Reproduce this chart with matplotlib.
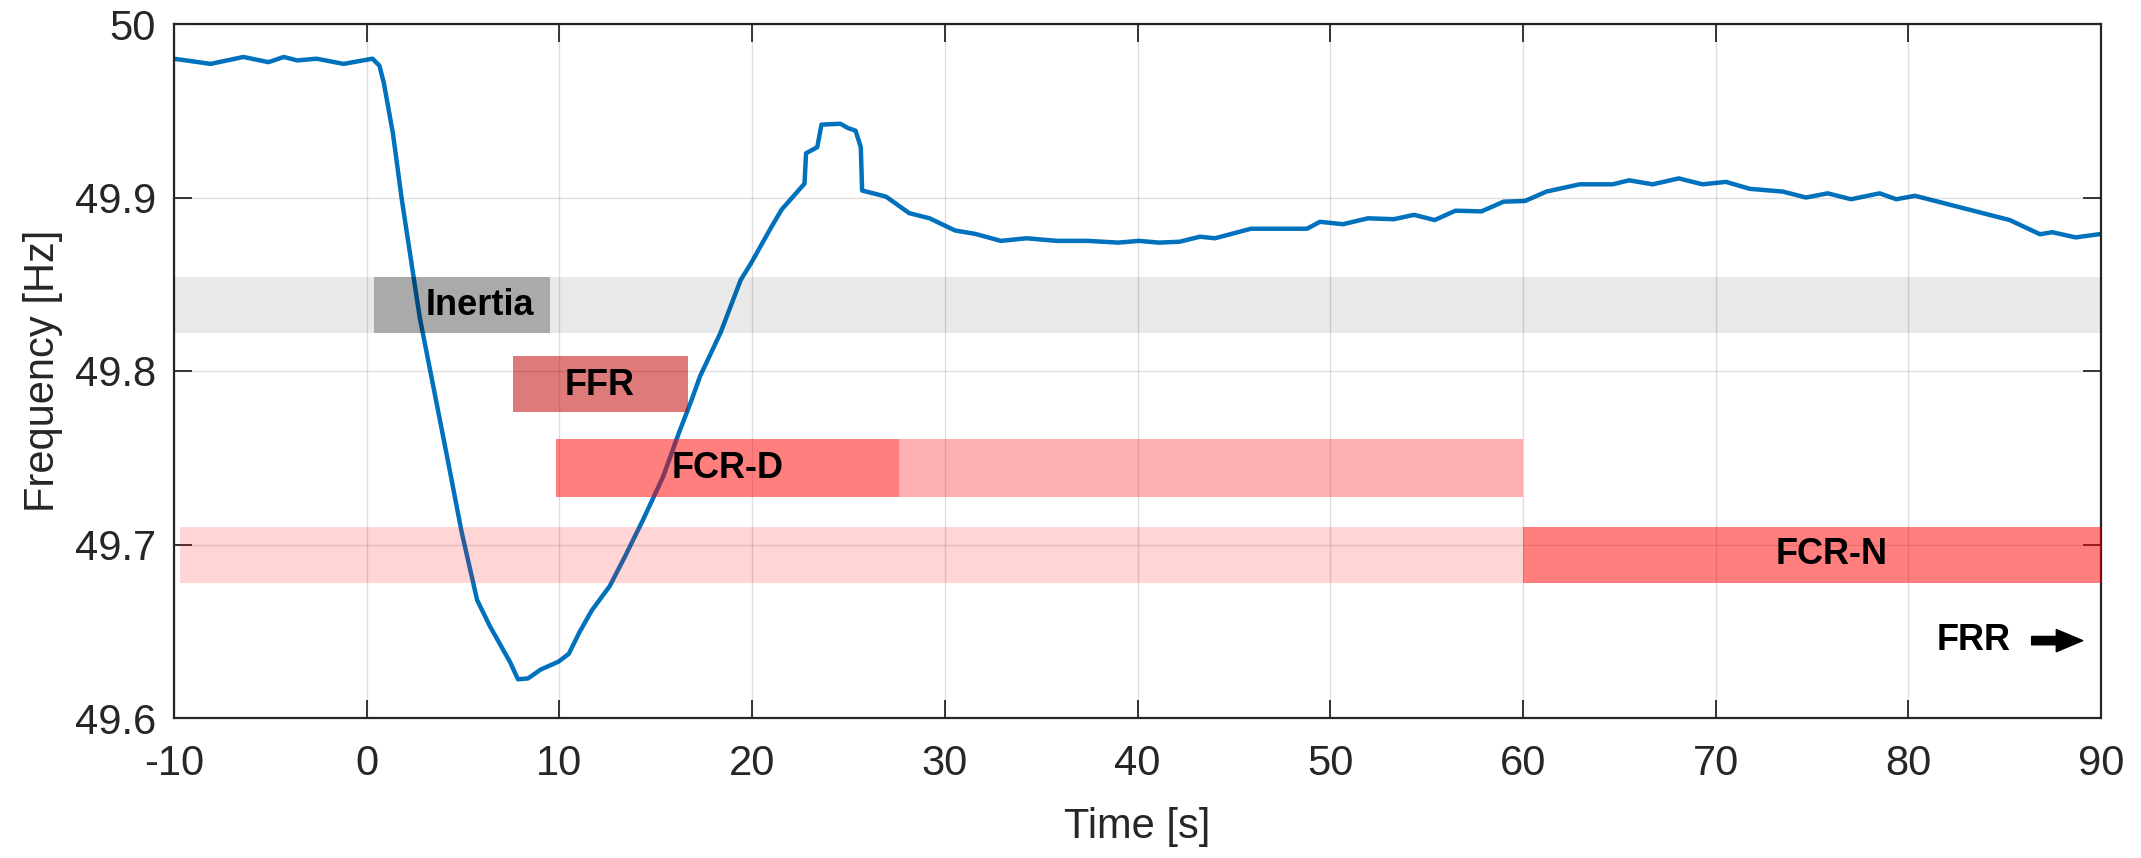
import matplotlib
matplotlib.use("Agg")
import matplotlib.pyplot as plt

# ---------------- data ----------------
time_s = [-10, -8.1, -6.4, -5.1, -4.3, -3.6, -2.6, -1.2, 0.3, 0.66,
          0.89, 1.36, 1.82, 2.75, 3.6, 4.27, 4.93, 5.73, 6.39, 7.45,
          7.85, 8.37, 9.04, 9.96, 10.49, 11.02, 11.68, 12.61, 13.40, 14.33,
          15.38, 16.19, 16.85, 17.30, 18.36, 19.41, 19.94, 21.0, 21.53, 22.72,
          22.80, 23.38, 23.6, 24.58, 24.98, 25.37, 25.64, 25.71, 26.43, 26.95,
          28.15, 29.21, 30.53, 31.59, 32.91, 34.24, 35.82, 37.42, 39.0, 40.07,
          41.12, 42.18, 43.24, 44.02, 45.89, 47.48, 48.80, 49.47, 50.66, 51.96,
          53.30, 54.35, 55.42, 56.5, 57.85, 59.0, 60.11, 61.22, 62.94, 64.66,
          65.51, 66.74, 68.09, 69.32, 70.54, 71.77, 73.49, 74.69, 75.82, 77.03,
          78.51, 79.38, 80.35, 82.56, 85.26, 86.84, 87.46, 88.69, 90.0]
freq_hz = [49.980, 49.977, 49.981, 49.978, 49.981, 49.979, 49.980, 49.977, 49.980, 49.976,
           49.966, 49.937, 49.899, 49.831, 49.783, 49.745, 49.707, 49.668, 49.653, 49.632,
           49.6223, 49.6228, 49.628, 49.6325, 49.637, 49.649, 49.662, 49.676, 49.693, 49.714,
           49.739, 49.764, 49.783, 49.797, 49.822, 49.8525, 49.862, 49.883, 49.893, 49.908,
           49.9255, 49.929, 49.942, 49.9425, 49.940, 49.9385, 49.929, 49.904, 49.902, 49.9005,
           49.891, 49.888, 49.881, 49.879, 49.875, 49.8765, 49.875, 49.875, 49.874, 49.875,
           49.874, 49.8745, 49.8774, 49.8765, 49.882, 49.882, 49.882, 49.886, 49.8846, 49.888,
           49.8875, 49.890, 49.887, 49.8924, 49.892, 49.8976, 49.898, 49.9034, 49.9076, 49.9076,
           49.9099, 49.9076, 49.911, 49.9076, 49.909, 49.905, 49.9034, 49.900, 49.9024, 49.899,
           49.9024, 49.899, 49.901, 49.8947, 49.887, 49.8788, 49.880, 49.877, 49.879]

# reserve bands: start time, end time, lower freq, upper freq
band_start = [-10, 0.4, 7.6, 9.8, 27.6, -9.7, 60]
band_end = [90, 9.5, 16.65, 27.6, 60, 60, 90]
band_low = [49.822, 49.822, 49.7766, 49.7276, 49.7276, 49.678, 49.678]
band_high = [49.854, 49.854, 49.8086, 49.761, 49.761, 49.710, 49.710]
band_color = ["#000000", "#000000", "#c30000", "#ff0000", "#ff0000", "#ff0000", "#ff0000"]
band_alpha = [0.086, 0.27, 0.52, 0.5, 0.31, 0.165, 0.5]

label_text = ["Inertia", "FFR", "FCR-D", "FCR-N", "FRR"]
label_x = [5.85, 12.1, 18.74, 76.0, 83.4]
label_y = [49.838, 49.7915, 49.744, 49.694, 49.6446]

arrow_from = (86.4, 49.6446)
arrow_to = (89.05, 49.6446)

x_ticks = [-10, 0, 10, 20, 30, 40, 50, 60, 70, 80, 90]
y_ticks = [49.6, 49.7, 49.8, 49.9, 50.0]
y_ticklabels = ["49.6", "49.7", "49.8", "49.9", "50"]

# ---------------- plot ----------------
plt.rcParams["font.family"] = ["Liberation Sans", "DejaVu Sans"]
txt_col = "#262626"

fig = plt.figure(figsize=(21.41, 8.58), dpi=100)
ax = fig.add_axes([174 / 2141, 140 / 858, 1927 / 2141, 694 / 858])

ax.plot(time_s, freq_hz, color="#0072BD", lw=3.2, zorder=2,
        solid_joinstyle="round", solid_capstyle="round")

for s, e, lo, hi, c, a in zip(band_start, band_end, band_low, band_high, band_color, band_alpha):
    ax.barh((lo + hi) / 2, e - s, left=s, height=hi - lo, color=c, alpha=a,
            linewidth=0, zorder=3)

for t, x, y in zip(label_text, label_x, label_y):
    ax.text(x, y, t, ha="center", va="center", fontsize=26, fontweight="bold",
            color="black", zorder=5)

ax.annotate("", xy=arrow_to, xytext=arrow_from,
            arrowprops=dict(arrowstyle="simple,head_length=0.95,head_width=0.8,tail_width=0.3",
                            mutation_scale=20, color="black", shrinkA=0, shrinkB=0),
            zorder=5)

ax.set_xlim(-10, 90)
ax.set_ylim(49.6, 50.0)
ax.set_xticks(x_ticks)
ax.set_xticklabels([str(v) for v in x_ticks])
ax.set_yticks(y_ticks)
ax.set_yticklabels(y_ticklabels)

ax.grid(True, color="black", alpha=0.13, lw=1.0, zorder=4)
ax.set_axisbelow(False)

ax.tick_params(axis="both", direction="in", length=13, width=1.3, colors=txt_col,
               labelsize=30, top=True, right=True)
ax.tick_params(axis="x", pad=19)
ax.tick_params(axis="y", pad=13)
for sp in ax.spines.values():
    sp.set_color(txt_col)
    sp.set_linewidth(1.6)

ax.set_xlabel("Time [s]", fontsize=30, color=txt_col)
ax.set_ylabel("Frequency [Hz]", fontsize=30, color=txt_col)
ax.xaxis.set_label_coords(0.5, -0.128)
ax.yaxis.set_label_coords(-0.0576, 0.5)

fig.savefig("out.png", dpi=100)
